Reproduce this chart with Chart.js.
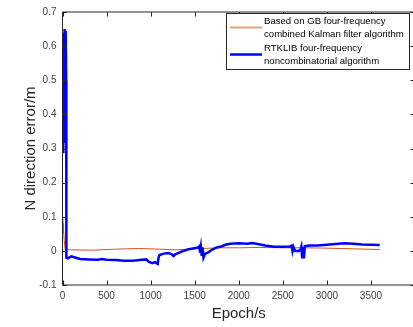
<!DOCTYPE html>
<html>
<head>
<meta charset="utf-8">
<script src="https://cdn.jsdelivr.net/npm/chart.js@4"></script>
<style>
  html, body { margin: 0; padding: 0; background: #fff; overflow: hidden; }
  #wrap { width: 420px; height: 327px; }
</style>
</head>
<body>
<div id="wrap"><canvas id="chart" width="420" height="327"></canvas></div>
<script>
// GB four-frequency combined Kalman filter (orange)
const gbEpoch = [0, 3, 6, 9, 12, 15, 20, 30, 100, 350, 600, 865, 1100, 1290, 1500, 1781, 2000, 2233, 2500, 2750, 2990, 3300, 3600];
const gbErr   = [0.1, 0.05, 0.08, 0.055, 0.07, 0.06, 0.03, 0.004, 0.003, 0.002, 0.005, 0.007, 0.005, 0.003, 0.006, 0.009, 0.009, 0.01, 0.009, 0.009, 0.008, 0.006, 0.004];

// RTKLIB four-frequency noncombinatorial (blue)
const rtkEpoch = [0, 1, 2, 3, 4, 5, 6, 7, 8, 9, 10, 14, 18, 22, 26, 30, 34, 38, 42, 44, 60, 100, 150, 200, 300, 400, 450, 500, 600, 700, 800, 900, 950, 980, 1020, 1050, 1080, 1090, 1100, 1150, 1200, 1240, 1260, 1280, 1350, 1420, 1480, 1540, 1555, 1560, 1570, 1580, 1590, 1600, 1620, 1650, 1700, 1750, 1800, 1850, 1900, 2000, 2100, 2150, 2200, 2300, 2400, 2500, 2580, 2600, 2610, 2620, 2640, 2680, 2700, 2710, 2720, 2730, 2740, 2750, 2800, 2900, 3000, 3100, 3200, 3300, 3400, 3500, 3600];
const rtkErr   = [0.33, 0.38, 0.29, 0.37, 0.30, 0.38, 0.29, 0.36, 0.30, 0.38, 0.31, 0.64, 0.32, 0.65, 0.35, 0.64, 0.40, 0.645, 0.5, -0.02, -0.022, -0.016, -0.02, -0.024, -0.025, -0.026, -0.024, -0.026, -0.027, -0.029, -0.029, -0.026, -0.025, -0.032, -0.036, -0.033, -0.038, -0.02, -0.012, -0.008, -0.006, -0.01, -0.015, -0.01, -0.002, 0.004, 0.007, 0.01, 0.014, -0.005, 0.012, -0.015, 0.01, -0.02, -0.008, -0.005, 0.004, 0.01, 0.013, 0.018, 0.021, 0.022, 0.021, 0.023, 0.021, 0.016, 0.012, 0.012, 0.013, 0.015, 0.0, 0.012, 0.0, 0.0, 0.003, 0.012, -0.022, 0.012, -0.022, 0.014, 0.016, 0.016, 0.018, 0.02, 0.022, 0.021, 0.019, 0.018, 0.017];

const xTicks = [0, 500, 1000, 1500, 2000, 2500, 3000, 3500, 4000];
const seriesNames = [
    ["Based on GB four-frequency", "combined Kalman filter algorithm"],
    ["RTKLIB four-frequency", "noncombinatorial algorithm"]
];

const FONT = "'Liberation Sans', Arial, sans-serif";

function toPoints(xs, ys) {
    return xs.map((x, i) => ({ x: x, y: ys[i] }));
}

// box round the axes, inward ticks, and the legend
const matlabFrame = {
    id: "matlabFrame",
    afterDraw(chart) {
        const { ctx, chartArea: a, scales } = chart;
        const len = 4.5;
        ctx.save();
        ctx.strokeStyle = "#262626";
        ctx.lineWidth = 1;
        ctx.beginPath();
        ctx.rect(a.left, a.top, a.right - a.left, a.bottom - a.top);
        scales.x.ticks.forEach(t => {
            const px = Math.round(scales.x.getPixelForValue(t.value)) + 0.5;
            ctx.moveTo(px, a.bottom); ctx.lineTo(px, a.bottom - len);
            ctx.moveTo(px, a.top); ctx.lineTo(px, a.top + len);
        });
        scales.y.ticks.forEach(t => {
            const py = Math.round(scales.y.getPixelForValue(t.value)) + 0.5;
            ctx.moveTo(a.left, py); ctx.lineTo(a.left + len, py);
            ctx.moveTo(a.right, py); ctx.lineTo(a.right - len, py);
        });
        ctx.stroke();

        // legend
        const bx = 226.5, by = 13.5, bw = 183, bh = 56;
        ctx.fillStyle = "#fff";
        ctx.fillRect(bx, by, bw, bh);
        ctx.strokeStyle = "#262626";
        ctx.strokeRect(bx, by, bw, bh);
        ctx.font = "9.6px " + FONT;
        ctx.fillStyle = "#000";
        ctx.textBaseline = "middle";
        let y = 21;
        chart.data.datasets.forEach((ds, i) => {
            const lines = seriesNames[i];
            const midY = y + 6.5;
            ctx.strokeStyle = i === 0 ? "#EE9E74" : ds.borderColor;
            ctx.lineWidth = i === 0 ? 2 : 2.5;
            ctx.beginPath();
            ctx.moveTo(230, midY); ctx.lineTo(262, midY);
            ctx.stroke();
            lines.forEach((s, k) => ctx.fillText(s, 264, y + k * 13.5));
            y += 27;
        });
        ctx.restore();
    }
};

new Chart(document.getElementById("chart"), {
    type: "scatter",
    data: {
        datasets: [
            {
                label: seriesNames[0].join(" "),
                data: toPoints(gbEpoch, gbErr),
                borderColor: "#D95319",
                borderWidth: 1,
                showLine: true,
                pointRadius: 0,
                tension: 0,
                order: 1
            },
            {
                label: seriesNames[1].join(" "),
                data: toPoints(rtkEpoch, rtkErr),
                borderColor: "#0000FF",
                borderWidth: 2.5,
                showLine: true,
                pointRadius: 0,
                tension: 0,
                order: 0
            }
        ]
    },
    options: {
        responsive: false,
        animation: false,
        layout: { padding: { top: 11, right: 4, left: 0, bottom: 0 } },
        plugins: {
            legend: { display: false },
            tooltip: { enabled: false }
        },
        scales: {
            x: {
                type: "linear",
                min: 0,
                max: 4000,
                afterBuildTicks: axis => { axis.ticks = xTicks.map(v => ({ value: v })); },
                afterFit: axis => { axis.height = 42; },
                grid: { display: false, drawTicks: false },
                border: { display: false },
                ticks: {
                    padding: 5,
                    color: "#404040",
                    font: { family: FONT, size: 10 },
                    maxRotation: 0,
                    callback: v => (v === 4000 ? "" : String(v))
                },
                title: {
                    display: true,
                    text: "Epoch/s",
                    color: "#262626",
                    font: { family: FONT, size: 15 },
                    padding: { top: 2, bottom: 4 }
                }
            },
            y: {
                min: -0.1,
                max: 0.7,
                afterFit: axis => { axis.width = 62.5; },
                grid: { display: false, drawTicks: false },
                border: { display: false },
                ticks: {
                    stepSize: 0.1,
                    padding: 6,
                    color: "#404040",
                    font: { family: FONT, size: 10 },
                    callback: v => String(parseFloat(v.toFixed(1)))
                },
                title: {
                    display: true,
                    text: "N direction error/m",
                    color: "#262626",
                    font: { family: FONT, size: 15 },
                    padding: { top: 22, bottom: 4 }
                }
            }
        }
    },
    plugins: [matlabFrame]
});
</script>
</body>
</html>
